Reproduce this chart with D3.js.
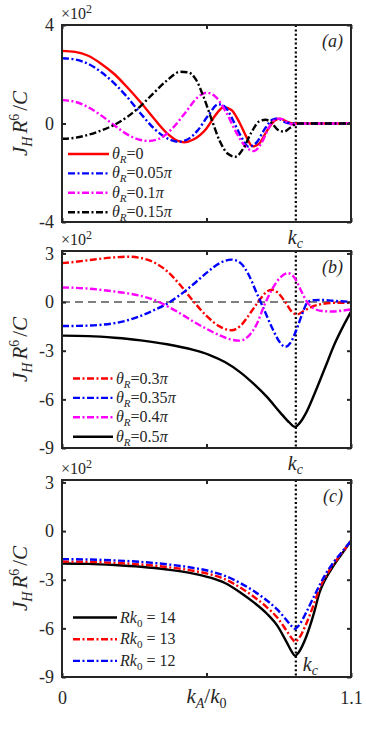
<!DOCTYPE html>
<html><head><meta charset="utf-8">
<script src="https://cdn.jsdelivr.net/npm/d3@7"></script>
<style>
html,body{margin:0;padding:0;background:#fff;}
svg{display:block;}
</style></head>
<body>
<script>
// ---------- data (values in units of 10^2) ----------
const xDomain = [0, 1.1];
const xTicks = [0, 0.55, 1.1];
const xTickLabels = ["0", "", "1.1"];
const kc = 0.89;

const yTicksA = [-4, 0, 4];
const yTicksBC = [-9, -6, -3, 0, 3];

// panel (a)
const aTheta0 = [[0,2.95],[0.05,2.91],[0.1,2.75],[0.15,2.42],[0.2,2.0],[0.25,1.45],[0.3,0.85],[0.35,0.2],[0.4,-0.4],[0.44,-0.7],[0.465,-0.76],[0.5,-0.65],[0.55,-0.2],[0.585,0.35],[0.615,0.66],[0.645,0.55],[0.675,0.05],[0.7,-0.5],[0.725,-0.93],[0.75,-0.82],[0.78,-0.3],[0.81,0.12],[0.83,0.2],[0.855,0.08],[0.88,0],[0.95,0],[1.02,0],[1.1,0]];
const aTheta005 = [[0,2.65],[0.05,2.6],[0.1,2.42],[0.15,2.08],[0.2,1.62],[0.25,1.05],[0.3,0.4],[0.35,-0.2],[0.4,-0.6],[0.44,-0.74],[0.475,-0.66],[0.515,-0.3],[0.555,0.3],[0.595,0.78],[0.62,0.68],[0.65,0.15],[0.68,-0.5],[0.71,-0.94],[0.74,-0.78],[0.77,-0.25],[0.8,0.15],[0.82,0.21],[0.85,0.05],[0.88,0],[0.95,0],[1.02,0],[1.1,0]];
const aTheta01 = [[0,0.95],[0.05,0.88],[0.1,0.66],[0.15,0.32],[0.2,-0.08],[0.25,-0.45],[0.3,-0.67],[0.33,-0.71],[0.37,-0.62],[0.42,-0.2],[0.47,0.45],[0.515,1.05],[0.55,1.25],[0.585,1.08],[0.625,0.45],[0.665,-0.4],[0.7,-0.95],[0.73,-1.12],[0.76,-0.78],[0.79,-0.12],[0.82,0.2],[0.84,0.18],[0.86,0.02],[0.88,-0.04],[0.9,0],[0.96,0],[1.03,0],[1.1,0]];
const aTheta015 = [[0,-0.62],[0.05,-0.58],[0.1,-0.46],[0.15,-0.28],[0.2,-0.05],[0.25,0.28],[0.3,0.72],[0.35,1.25],[0.4,1.75],[0.45,2.1],[0.48,2.08],[0.51,1.78],[0.54,1.05],[0.57,0.15],[0.6,-0.7],[0.63,-1.22],[0.66,-1.35],[0.69,-1.02],[0.72,-0.38],[0.75,0.08],[0.775,0.15],[0.8,0.0],[0.82,-0.24],[0.845,-0.33],[0.87,-0.16],[0.895,0],[0.96,0],[1.03,0],[1.1,0]];

// panel (b)
const bTheta03 = [[0,2.4],[0.05,2.48],[0.1,2.58],[0.15,2.68],[0.2,2.76],[0.25,2.8],[0.3,2.72],[0.35,2.45],[0.4,1.9],[0.45,1.05],[0.5,0.05],[0.55,-0.85],[0.6,-1.5],[0.645,-1.74],[0.68,-1.45],[0.72,-0.6],[0.755,0.2],[0.78,0.65],[0.8,0.76],[0.82,0.6],[0.85,0.0],[0.875,-0.6],[0.895,-0.76],[0.92,-0.55],[0.95,-0.3],[0.98,-0.15],[1.02,-0.06],[1.06,-0.04],[1.1,-0.05]];
const bTheta035 = [[0,-1.48],[0.05,-1.47],[0.1,-1.45],[0.15,-1.4],[0.2,-1.3],[0.25,-1.12],[0.3,-0.85],[0.35,-0.5],[0.4,-0.1],[0.45,0.45],[0.5,1.1],[0.55,1.8],[0.6,2.4],[0.645,2.62],[0.68,2.4],[0.71,1.7],[0.74,0.6],[0.77,-0.5],[0.8,-1.6],[0.83,-2.5],[0.85,-2.76],[0.87,-2.5],[0.895,-1.6],[0.915,-0.7],[0.935,0.0],[0.96,0.12],[0.99,0.13],[1.03,0.08],[1.1,0.02]];
const bTheta04 = [[0,0.9],[0.05,0.88],[0.1,0.83],[0.15,0.75],[0.2,0.65],[0.25,0.54],[0.3,0.38],[0.35,0.14],[0.4,-0.25],[0.45,-0.7],[0.5,-1.2],[0.55,-1.65],[0.6,-2.05],[0.64,-2.3],[0.675,-2.38],[0.71,-2.1],[0.74,-1.4],[0.77,-0.2],[0.8,0.8],[0.83,1.5],[0.86,1.78],[0.885,1.5],[0.91,0.7],[0.935,-0.05],[0.96,-0.4],[0.99,-0.55],[1.03,-0.58],[1.07,-0.52],[1.1,-0.45]];
const bTheta05 = [[0,-2.07],[0.1,-2.1],[0.2,-2.2],[0.3,-2.36],[0.4,-2.6],[0.5,-2.95],[0.56,-3.25],[0.62,-3.7],[0.68,-4.35],[0.73,-5.05],[0.78,-5.85],[0.83,-6.8],[0.865,-7.42],[0.887,-7.7],[0.905,-7.45],[0.93,-6.8],[0.96,-5.7],[1.0,-4.1],[1.04,-2.5],[1.07,-1.5],[1.1,-0.6]];

// panel (c)
const cRk14 = [[0,-2.0],[0.1,-2.02],[0.2,-2.09],[0.3,-2.2],[0.4,-2.37],[0.5,-2.62],[0.56,-2.85],[0.62,-3.2],[0.68,-3.8],[0.73,-4.4],[0.78,-5.1],[0.82,-5.85],[0.855,-6.85],[0.875,-7.45],[0.887,-7.7],[0.9,-7.5],[0.93,-6.5],[0.96,-5.0],[0.98,-3.8],[1.0,-3.05],[1.035,-2.1],[1.07,-1.3],[1.1,-0.6]];
const cRk13 = [[0,-1.88],[0.1,-1.9],[0.2,-1.96],[0.3,-2.06],[0.4,-2.22],[0.5,-2.45],[0.56,-2.65],[0.62,-2.97],[0.68,-3.5],[0.73,-4.05],[0.78,-4.7],[0.82,-5.35],[0.855,-6.15],[0.875,-6.62],[0.887,-6.82],[0.9,-6.65],[0.93,-5.7],[0.96,-4.45],[0.98,-3.55],[1.0,-2.9],[1.035,-2.0],[1.07,-1.25],[1.1,-0.6]];
const cRk12 = [[0,-1.73],[0.1,-1.75],[0.2,-1.81],[0.3,-1.9],[0.4,-2.05],[0.5,-2.27],[0.56,-2.46],[0.62,-2.76],[0.68,-3.22],[0.73,-3.7],[0.78,-4.28],[0.82,-4.85],[0.855,-5.5],[0.875,-5.88],[0.887,-6.02],[0.9,-5.85],[0.93,-5.0],[0.96,-4.0],[0.98,-3.35],[1.0,-2.75],[1.035,-1.9],[1.07,-1.2],[1.1,-0.6]];

const legendA = ["0", "0.05π", "0.1π", "0.15π"];
const legendB = ["0.3π", "0.35π", "0.4π", "0.5π"];
const legendC = ["14", "13", "12"];

// ---------- font selection ----------
function pickFont(cands) {
  const c = document.createElement("canvas").getContext("2d");
  const s = "J kRθπ 0123456789 mmmmWWiil";
  c.font = "40px monospace"; const mw = c.measureText(s).width;
  c.font = "40px sans-serif"; const sw = c.measureText(s).width;
  for (const f of cands) {
    c.font = `40px "${f}", monospace`; const a = c.measureText(s).width;
    c.font = `40px "${f}", sans-serif`; const b = c.measureText(s).width;
    if (a !== mw || b !== sw) return `"${f}"`;
  }
  return "serif";
}
const FONT = pickFont(["Liberation Serif", "DejaVu Serif", "Noto Serif"]) + ", serif";

// ---------- drawing ----------
const W = 366, H = 732;
const L = 62, R = 351, PH = 197;
const DASHDOT = "7,2.5,2,2.5";
const FRAME = "#262626";

const svg = d3.select("body").append("svg").attr("width", W).attr("height", H)
  .style("font-family", FONT);
const x = d3.scaleLinear().domain(xDomain).range([L, R]);

const panels = [
  {top: 25, dom: [-4, 4], ticks: yTicksA, tag: "(a)",
   series: [
     {d: aTheta0, c: "#ff0000", dash: null},
     {d: aTheta005, c: "#0000ff", dash: DASHDOT},
     {d: aTheta01, c: "#ff00ff", dash: DASHDOT},
     {d: aTheta015, c: "#000000", dash: DASHDOT}],
   legend: {labels: legendA, kind: "theta", x0: 68, x1: 109, y0: 154, dy: 19.4},
   zeroLine: false, kcLabel: "below", xlabels: false},
  {top: 251, dom: [-9, 3.15], ticks: yTicksBC, tag: "(b)",
   series: [
     {d: bTheta03, c: "#ff0000", dash: DASHDOT},
     {d: bTheta035, c: "#0000ff", dash: DASHDOT},
     {d: bTheta04, c: "#ff00ff", dash: DASHDOT},
     {d: bTheta05, c: "#000000", dash: null}],
   legend: {labels: legendB, kind: "theta", x0: 73, x1: 113, y0: 378.5, dy: 19.4},
   zeroLine: true, kcLabel: "below", xlabels: false},
  {top: 480, dom: [-9, 3.15], ticks: yTicksBC, tag: "(c)",
   series: [
     {d: cRk14, c: "#000000", dash: null},
     {d: cRk13, c: "#ff0000", dash: DASHDOT},
     {d: cRk12, c: "#0000ff", dash: DASHDOT}],
   legend: {labels: legendC, kind: "rk", x0: 73, x1: 117, y0: 617.5, dy: 21.7},
   zeroLine: false, kcLabel: "inside", xlabels: true}
];

function txt(sel) { return sel.attr("fill", FRAME).attr("font-family", FONT); }

panels.forEach(p => {
  const y = d3.scaleLinear().domain(p.dom).range([p.top + PH, p.top]);
  const g = svg.append("g");
  const bottom = p.top + PH;

  if (p.zeroLine) {
    g.append("line").attr("x1", L).attr("x2", R).attr("y1", y(0)).attr("y2", y(0))
      .attr("stroke", "#000").attr("stroke-width", 1.1).attr("stroke-dasharray", "8,5");
  }
  g.append("line").attr("x1", x(kc)).attr("x2", x(kc)).attr("y1", p.top).attr("y2", bottom)
    .attr("stroke", "#000").attr("stroke-width", 2.2).attr("stroke-dasharray", "2,2.4");

  const line = d3.line().x(d => x(d[0])).y(d => y(d[1])).curve(d3.curveMonotoneX);
  p.series.forEach(s => {
    g.append("path").attr("d", line(s.d)).attr("fill", "none").attr("stroke", s.c)
      .attr("stroke-width", 2.4).attr("stroke-dasharray", s.dash);
  });

  const left = d3.axisLeft(y).tickValues(p.ticks).tickSizeInner(-4).tickSizeOuter(0).tickPadding(8).tickFormat(d => String(d));
  const right = d3.axisRight(y).tickValues(p.ticks).tickSizeInner(-4).tickSizeOuter(0).tickFormat("");
  const top = d3.axisTop(x).tickValues(xTicks).tickSizeInner(-4).tickSizeOuter(0).tickFormat("");
  const bot = d3.axisBottom(x).tickValues(xTicks).tickSizeInner(-4).tickSizeOuter(0).tickPadding(14)
    .tickFormat((d, i) => p.xlabels ? xTickLabels[i] : "");
  [[left, `translate(${L},0)`], [right, `translate(${R},0)`], [top, `translate(0,${p.top})`], [bot, `translate(0,${bottom})`]]
    .forEach(([ax, tr]) => {
      const a = g.append("g").attr("transform", tr).call(ax).attr("font-family", FONT);
      a.select(".domain").remove();
      a.selectAll("line").attr("stroke", FRAME).attr("stroke-width", 2);
      a.selectAll("text").attr("font-size", 18).attr("fill", FRAME).attr("font-family", FONT);
    });
  g.append("rect").attr("x", L).attr("y", p.top).attr("width", R - L).attr("height", PH)
    .attr("fill", "none").attr("stroke", FRAME).attr("stroke-width", 2);

  const ex = txt(g.append("text")).attr("x", L - 1).attr("y", p.top - 6).attr("font-size", 16);
  ex.append("tspan").text("×10");
  ex.append("tspan").attr("dy", -6).attr("font-size", 12).text("2");

  txt(g.append("text")).attr("x", R - 8).attr("y", p.top + 22).attr("text-anchor", "end")
    .attr("font-size", 18).attr("font-style", "italic").text(p.tag);

  const yl = txt(g.append("text")).attr("transform", `translate(27,${p.top + PH / 2}) rotate(-90)`)
    .attr("text-anchor", "middle").attr("font-size", 21).attr("font-style", "italic");
  yl.append("tspan").text("J");
  yl.append("tspan").attr("dy", 5).attr("font-size", 14).text("H");
  yl.append("tspan").attr("dy", -5).attr("dx", 3).text("R");
  yl.append("tspan").attr("dy", -8).attr("font-size", 14).attr("font-style", "normal").text("6");
  yl.append("tspan").attr("dy", 8).attr("dx", 3).attr("font-style", "normal").text("/");
  yl.append("tspan").text("C");

  const kx = p.kcLabel === "below" ? x(kc) - 8 : x(kc) + 7;
  const ky = p.kcLabel === "below" ? bottom + 22 : bottom - 6;
  const kt = txt(g.append("text")).attr("x", kx).attr("y", ky).attr("font-size", 20).attr("font-style", "italic");
  kt.append("tspan").text("k");
  kt.append("tspan").attr("dy", 4).attr("font-size", 14).text("c");

  const lg = p.legend;
  lg.labels.forEach((lab, i) => {
    const s = p.series[i];
    const yy = lg.y0 + i * lg.dy;
    g.append("line").attr("x1", lg.x0).attr("x2", lg.x1).attr("y1", yy).attr("y2", yy)
      .attr("stroke", s.c).attr("stroke-width", 2.4).attr("stroke-dasharray", s.dash);
    const t = txt(g.append("text")).attr("x", lg.x1 + 3).attr("y", yy + 5).attr("font-size", 16);
    if (lg.kind === "theta") {
      t.append("tspan").attr("font-style", "italic").text("θ");
      t.append("tspan").attr("font-style", "italic").attr("font-size", 11).attr("dy", 4).text("R");
      t.append("tspan").attr("dy", -4).text("=" + lab.replace("π", ""));
      if (lab.includes("π")) t.append("tspan").attr("font-style", "italic").text("π");
    } else {
      t.append("tspan").attr("font-style", "italic").text("Rk");
      t.append("tspan").attr("font-size", 11).attr("dy", 4).text("0");
      t.append("tspan").attr("dy", -4).text(" = " + lab);
    }
  });
});

const xl = txt(svg.append("text")).attr("x", x(0.55)).attr("y", 703).attr("text-anchor", "middle")
  .attr("font-size", 21).attr("font-style", "italic");
xl.append("tspan").text("k");
xl.append("tspan").attr("dy", 5).attr("font-size", 14).text("A");
xl.append("tspan").attr("dy", -5).attr("font-style", "normal").text("/");
xl.append("tspan").text("k");
xl.append("tspan").attr("dy", 5).attr("font-size", 14).attr("font-style", "normal").text("0");
</script>
</body></html>
